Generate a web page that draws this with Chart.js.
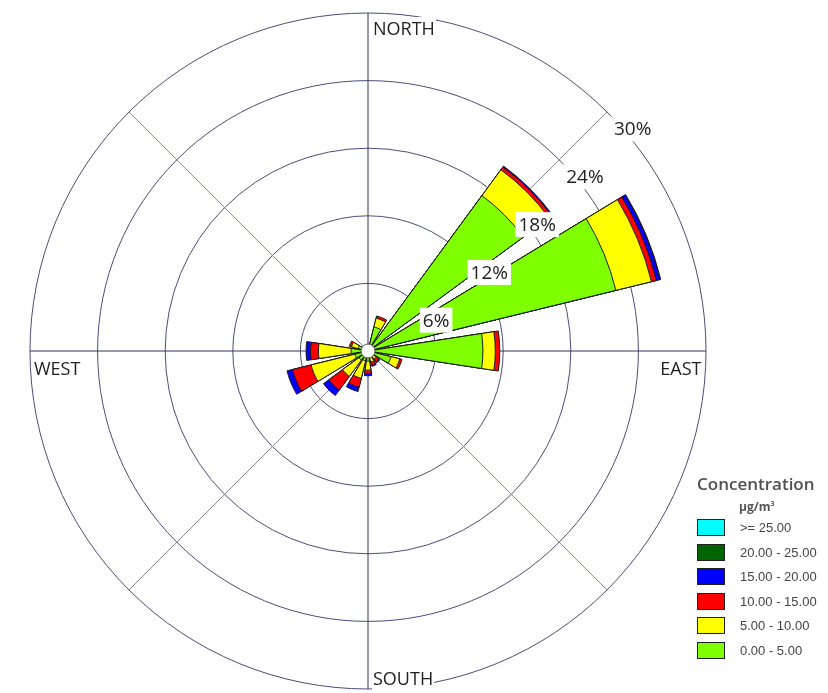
<!DOCTYPE html>
<html>
<head>
<meta charset="utf-8">
<script src="https://cdn.jsdelivr.net/npm/chart.js@4.4.1/dist/chart.umd.min.js"></script>
<style>
  body { margin: 0; background: #fff; }
  #wrap { position: relative; width: 828px; height: 693px; }
  #legend { position: absolute; left: 697px; top: 475px; width: 131px; }
  .lg-title { font: 600 17px/17px "Open Sans", sans-serif; color: #505050; white-space: nowrap; }
  .lg-unit { margin: 9px 0 0 42px; font: 700 12px/12px "Open Sans", sans-serif; color: #555; }
  .lg-unit sup { font-size: 7px; line-height: 0; }
  .lg-items { margin-top: 6px; }
  .lg-item { display: flex; align-items: center; height: 17px; margin-bottom: 7.5px; }
  .lg-box { width: 28px; height: 17px; box-sizing: border-box; border: 1px solid #222; }
  .lg-text { margin-left: 15px; font: 13px/17px "Liberation Sans", Arial, sans-serif; color: #444; white-space: nowrap; }
</style>
</head>
<body>
<div id="wrap">
  <canvas id="chart"></canvas>
  <div id="legend"></div>
</div>
<script>
const directions = ["N", "NNE", "NE", "ENE", "E", "ESE", "SE", "SSE", "S", "SSW", "SW", "WSW", "W", "WNW", "NW", "NNW"];
const compassLabels = ["NORTH", "", "EAST", "", "SOUTH", "", "WEST", ""];
const concBins = ["0.00 - 5.00", "5.00 - 10.00", "10.00 - 15.00", "15.00 - 20.00", "20.00 - 25.00", ">= 25.00"];
const binColors = ["#80ff00", "#ffff00", "#ff0000", "#0000ff", "#006400", "#00ffff"];

// frequency (% of hours) per wind direction, one array per concentration class
const conc0to5   = [0, 2.2, 17.1, 22.65, 10.2, 2.1, 0.5, 0.5, 0.9, 0.9, 1.0, 1.2, 1.5, 0.9, 0, 0];
const conc5to10  = [0, 0.8, 2.85, 3.25, 1.1, 0.8, 0.4, 0.5, 0.8, 1.6, 1.8, 4.0, 2.9, 0.6, 0, 0];
const conc10to15 = [0, 0.2, 0.3, 0.45, 0.4, 0.2, 0.3, 0.3, 0.3, 0.8, 1.5, 1.7, 0.7, 0.2, 0, 0];
const conc15to20 = [0, 0, 0.1, 0.35, 0, 0, 0.1, 0.1, 0.2, 0.4, 0.6, 0.5, 0.4, 0, 0, 0];
const conc20to25 = [0, 0, 0, 0.05, 0, 0, 0, 0, 0, 0, 0, 0, 0, 0, 0, 0];
const conc25up   = [0, 0, 0, 0, 0, 0, 0, 0, 0, 0, 0, 0, 0, 0, 0, 0];

const percentTicks = [6, 12, 18, 24, 30];

const bins = [conc0to5, conc5to10, conc10to15, conc15to20, conc20to25, conc25up];

// slots clockwise from north: bar, gap, bar, gap ... (the N bar is split in two halves)
const BAR = 17.5, GAP = 5;
const slotDir = [0, null];
const slotAngle = [BAR / 2, GAP];
for (let d = 1; d < directions.length; d++) {
  slotDir.push(d, null);
  slotAngle.push(BAR, GAP);
}
slotDir.push(0);
slotAngle.push(BAR / 2);

// stacked: each class is drawn as its cumulative radius, smaller ones on top
const running = directions.map(() => 0);
const datasets = bins.map((bin, k) => {
  const cum = bin.map((v, d) => (running[d] += v));
  return {
    label: concBins[k],
    data: slotDir.map((d) => (d === null || bin[d] <= 0 ? 0 : cum[d])),
    backgroundColor: binColors[k],
    borderColor: "#1a1a1a",
    borderWidth: (c) => (c.raw > 0 ? 1 : 0),
    angle: (c) => slotAngle[c.dataIndex],
  };
});

const roseDecor = {
  id: "roseDecor",
  afterDatasetsDraw(chart) {
    const r = chart.scales.r;
    const ctx = chart.ctx;
    ctx.save();

    // calm circle
    ctx.beginPath();
    ctx.arc(r.xCenter, r.yCenter, 7, 0, Math.PI * 2);
    ctx.fillStyle = "#fff";
    ctx.fill();
    ctx.strokeStyle = "#555";
    ctx.lineWidth = 1;
    ctx.stroke();

    // ring labels along the NE diagonal
    ctx.font = '19px "Open Sans"';
    ctx.textAlign = "left";
    ctx.textBaseline = "alphabetic";
    percentTicks.forEach((v) => {
      const p = r.getPointPositionForValue(1, v);
      const text = v + "%";
      const w = ctx.measureText(text).width;
      const x = p.x + 7, y = p.y + 23.5;
      ctx.fillStyle = "#fff";
      ctx.fillRect(x - 3, y - 19, w + 6, 25);
      ctx.fillStyle = "#222";
      ctx.fillText(text, x, y);
    });

    // compass labels just inside the outer ring
    const place = { 0: [5, 22, "left"], 2: [-4.5, 23.5, "right"], 4: [5, -4, "left"], 6: [4, 24, "left"] };
    ctx.font = '18px "Open Sans"';
    compassLabels.forEach((name, i) => {
      if (!name) return;
      const p = r.getPointPositionForValue(i, r.max);
      const [dx, dy, align] = place[i];
      const w = ctx.measureText(name).width;
      const x = p.x + dx, y = p.y + dy;
      const left = align === "right" ? x - w : x;
      ctx.fillStyle = "#fff";
      ctx.fillRect(left - 1, y - 18, w + 2, 23);
      ctx.fillStyle = "#222";
      ctx.textAlign = align;
      ctx.fillText(name, x, y);
    });
    ctx.restore();
  },
};

const chart = new Chart(document.getElementById("chart"), {
  type: "polarArea",
  data: {
    labels: slotDir.map((d) => (d === null ? "" : directions[d])),
    datasets: datasets,
  },
  options: {
    responsive: true,
    maintainAspectRatio: false,
    animation: false,
    events: [],
    layout: { padding: { left: 30, right: 122, top: 13, bottom: 4 } },
    plugins: {
      legend: { display: false },
      tooltip: { enabled: false },
    },
    scales: {
      r: {
        labels: compassLabels,
        min: 0,
        max: percentTicks[percentTicks.length - 1],
        startAngle: 0,
        ticks: { display: false, stepSize: percentTicks[0] },
        grid: { circular: true, color: "#4c4c78", lineWidth: 1 },
        angleLines: {
          display: true,
          color: (c) => (c.index % 2 ? "#88889a" : "#34345f"),
          lineWidth: 1,
        },
        pointLabels: { display: false },
      },
    },
  },
  plugins: [roseDecor],
});

// legend, highest class on top
const legendEl = document.getElementById("legend");
let html = '<div class="lg-title">Concentration</div><div class="lg-unit">µg/m<sup>3</sup></div><div class="lg-items">';
for (let k = concBins.length - 1; k >= 0; k--) {
  html += '<div class="lg-item"><div class="lg-box" style="background:' + binColors[k] + '"></div>' +
    '<span class="lg-text">' + concBins[k] + "</span></div>";
}
legendEl.innerHTML = html + "</div>";
</script>
</body>
</html>
